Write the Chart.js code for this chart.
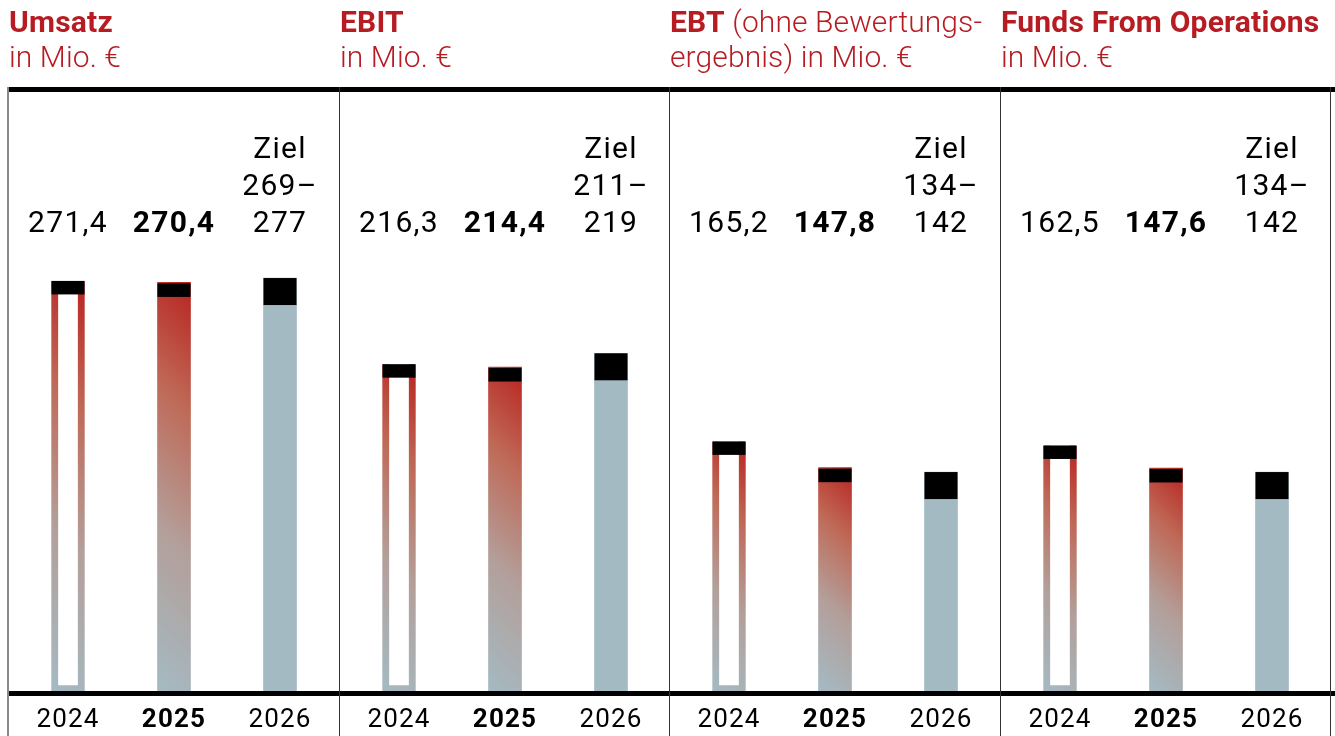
<!DOCTYPE html>
<html>
<head>
<meta charset="utf-8">
<script src="https://cdn.jsdelivr.net/npm/chart.js@4.4.1/dist/chart.umd.min.js"></script>
<style>
  html, body { margin:0; padding:0; background:#fff; }
  body { width:1335px; height:736px; position:relative; overflow:hidden; font-family: Roboto, "Noto Sans", sans-serif; }
  .panel { position:absolute; top:0; height:736px; }
  .title { position:absolute; top:4px; color:#b71c23; font-size:30px; line-height:35px; font-weight:300; white-space:nowrap; letter-spacing:0.1px; }
  .title b { font-weight:700; letter-spacing:0.2px; }
  .hline { position:absolute; background:#000; }
  .vline { position:absolute; }
</style>
</head>
<body>
<script>
// ---- data ----
const categories = ['2024', '2025', '2026'];
const panelTitles = ['Umsatz', 'EBIT', 'EBT', 'Funds From Operations'];
const panelSubtitles = ['in Mio. €', 'in Mio. €', ' (ohne Bewertungs-|ergebnis) in Mio. €', 'in Mio. €'];
const values2024 = [271.4, 216.3, 165.2, 162.5];
const values2025 = [270.4, 214.4, 147.8, 147.6];
const targetLow = [269, 211, 134, 134];
const targetHigh = [277, 219, 142, 142];
const targetBar = [273.3, 223.5, 144.9, 144.9]; // height of target bar

// ---- layout ----
const PANEL_LEFT = [8, 339, 669, 1000];
const PANEL_W = 331;
const GREY = '#a4bac3';

function fmt(v) { return v.toFixed(1).replace('.', ','); }

function barGradient(c) {
  const chart = c.chart;
  const xs = chart.scales.x, ys = chart.scales.y;
  if (!xs || !ys || !chart.chartArea) return GREY;
  const cx = xs.getPixelForValue(c.dataIndex);
  const w = 33;
  const top = ys.getPixelForValue(c.raw);
  const bot = ys.getPixelForValue(0);
  const h = bot - top;
  const L = (w + h) / 2;
  const g = chart.ctx.createLinearGradient(cx + w / 2, top, cx + w / 2 - L, top + L);
  g.addColorStop(0, '#b8231f');
  g.addColorStop(0.3, '#bf6a58');
  g.addColorStop(0.62, '#b39f9a');
  g.addColorStop(1, GREY);
  return g;
}

const capsAndLabels = {
  id: 'capsAndLabels',
  afterDatasetsDraw(chart) {
    const ctx = chart.ctx;
    const meta = chart.getDatasetMeta(0);
    ctx.save();
    ctx.fillStyle = '#000';
    meta.data.forEach((el, i) => {
      const h = i === 2 ? 27 : 13.5;
      const off = i === 1 ? 1 : 0;
      ctx.fillRect(el.x - el.width / 2, el.y + off, el.width, h);
    });
    ctx.restore();
  },
  afterDraw(chart) {
    const k = chart.options.panelIndex;
    const ctx = chart.ctx;
    const xs = chart.scales.x;
    ctx.save();
    ctx.fillStyle = '#000';
    ctx.textAlign = 'center';
    ctx.textBaseline = 'alphabetic';
    ctx.letterSpacing = '1.3px';
    const x0 = xs.getPixelForValue(0), x1 = xs.getPixelForValue(1), x2 = xs.getPixelForValue(2);
    ctx.font = '400 30px Roboto';
    ctx.fillText(fmt(values2024[k]), x0, 232);
    ctx.fillText('Ziel', x2, 158);
    ctx.fillText(targetLow[k] + '–', x2, 195);
    ctx.fillText(String(targetHigh[k]), x2, 232);
    ctx.font = '700 30px Roboto';
    ctx.fillText(fmt(values2025[k]), x1, 232);
    ctx.letterSpacing = '1.2px';
    categories.forEach((c, i) => {
      ctx.font = (i === 1 ? '700' : '400') + ' 26px Roboto';
      ctx.fillText(c, xs.getPixelForValue(i), 727);
    });
    ctx.restore();
  }
};

PANEL_LEFT.forEach((left, k) => {
  const div = document.createElement('div');
  div.className = 'panel';
  div.style.left = left + 'px';
  div.style.width = PANEL_W + 'px';
  const cv = document.createElement('canvas');
  div.appendChild(cv);
  document.body.appendChild(div);

  const t = document.createElement('div');
  t.className = 'title';
  t.style.left = (left + 1) + 'px';
  const sub = panelSubtitles[k];
  if (sub.startsWith(' ')) {
    const parts = sub.split('|');
    t.innerHTML = '<b>' + panelTitles[k] + '</b>' + parts[0] + '<br>' + parts[1];
  } else {
    t.innerHTML = '<b>' + panelTitles[k] + '</b><br>' + sub;
  }
  document.body.appendChild(t);

  new Chart(cv, {
    type: 'bar',
    data: {
      labels: categories,
      datasets: [{
        data: [values2024[k], values2025[k], targetBar[k]],
        backgroundColor: c => c.dataIndex === 0 ? '#ffffff' : (c.dataIndex === 1 ? barGradient(c) : GREY),
        borderColor: c => c.dataIndex === 0 ? barGradient(c) : 'rgba(0,0,0,0)',
        borderWidth: c => c.dataIndex === 0 ? { top: 0, left: 7, right: 7, bottom: 6 } : 0,
        borderSkipped: false,
        barThickness: 33
      }]
    },
    options: {
      panelIndex: k,
      responsive: true,
      maintainAspectRatio: false,
      animation: false,
      devicePixelRatio: 1,
      events: [],
      layout: { padding: { top: 86.6, bottom: 45, left: 7, right: 6 } },
      scales: {
        x: { display: false },
        y: { display: false, min: 0, max: 400 }
      },
      plugins: { legend: { display: false }, tooltip: { enabled: false } }
    },
    plugins: [capsAndLabels]
  });
});

// frame lines
function addLine(cls, l, t, w, h, color) {
  const d = document.createElement('div');
  d.className = cls;
  d.style.left = l + 'px'; d.style.top = t + 'px';
  d.style.width = w + 'px'; d.style.height = h + 'px';
  d.style.background = color;
  document.body.appendChild(d);
}
addLine('hline', 7, 87, 1328, 5, '#000');
addLine('hline', 7, 691, 1328, 5, '#000');
addLine('vline', 7, 87, 2, 649, '#8a8a8a');
[339, 669, 1000, 1330].forEach(x => addLine('vline', x, 87, 1, 649, '#333'));
</script>
</body>
</html>
